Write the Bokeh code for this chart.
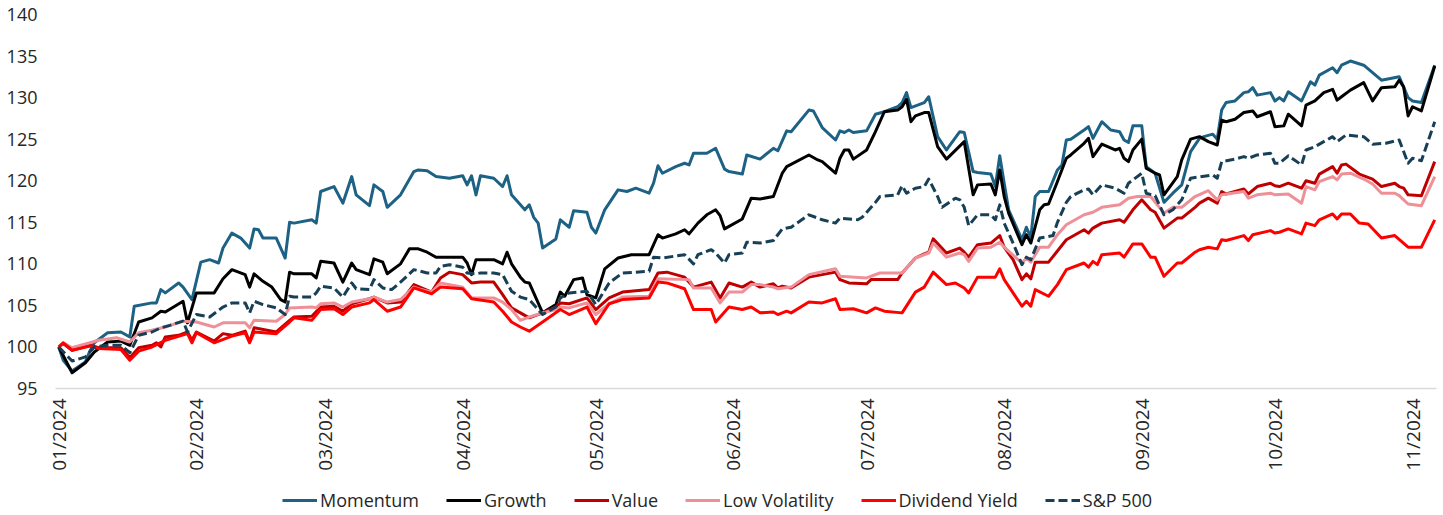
import math
import pandas as pd
from bokeh.plotting import figure
from bokeh.layouts import column
from bokeh.models import (Range1d, FixedTicker, DatetimeTickFormatter, Legend,
                          LegendItem, ColumnDataSource)
from bokeh.embed import file_html
from bokeh.resources import INLINE

# ---------------- data: (days since 2024-01-01, index level) ----------------
momentum = [(0,100.0),(1,98.4),(3,97.1),(6,98.2),(7,99.5),(8,100.5),(11,101.7),(14,101.8),(16,101.2),(17,104.9),
 (21,105.3),(22,105.3),(23,106.9),(24,106.5),(27,107.7),(28,107.2),(30,105.7),(32,110.2),(34,110.5),(36,110.1),
 (37,111.9),(39,113.7),(41,113.1),(43,111.9),(44,114.2),(45,114.1),(46,113.1),(49,113.1),(51,110.7),(52,115.0),
 (53,114.9),(57,115.3),(58,114.9),(59,118.7),(62,119.3),(64,117.3),(66,120.5),(67,118.3),(70,117.0),(71,119.5),
 (73,118.7),(74,116.8),(77,118.3),(80,121.1),(81,121.3),(83,121.2),(85,120.5),(88,120.3),(91,120.6),(92,119.5),
 (93,120.6),(94,118.3),(95,120.6),(98,120.3),(100,119.3),(101,120.6),(102,118.3),(105,116.5),(106,117.1),(107,115.6),
 (108,114.9),(109,111.9),(112,113.0),(113,115.3),(115,114.4),(116,116.4),(119,116.2),(120,114.4),(121,113.7),(123,116.5),
 (126,118.9),(128,118.7),(130,119.1),(133,118.5),(134,119.7),(135,121.8),(136,120.9),(139,121.7),(141,122.1),(142,121.9),
 (143,123.3),(146,123.3),(148,123.9),(150,121.4),(151,121.1),(154,120.8),(155,123.1),(158,122.6),(161,123.9),(162,123.6),
 (164,126.0),(165,125.9),(169,128.5),(170,128.4),(172,126.4),(175,124.9),(176,126.0),(177,125.8),(178,126.1),(179,125.8),
 (182,126.0),(184,128.0),(186,128.3),(189,128.9),(190,129.4),(191,130.6),(192,128.8),(195,129.4),(196,130.1),(198,125.3),
 (200,123.7),(203,125.9),(204,125.8),(206,121.1),(207,121.0),(210,120.8),(211,119.3),(212,123.0),(213,119.7),(214,116.5),
 (217,112.9),(218,114.4),(219,113.2),(220,118.1),(221,118.7),(223,118.7),(225,121.3),(226,121.9),(227,124.9),(228,125.0),
 (231,126.1),(232,126.5),(233,125.1),(235,127.1),(237,126.1),(239,125.9),(240,124.9),(241,124.6),(242,126.6),(244,126.6),
 (245,121.7),(247,120.9),(249,117.4),(251,118.5),(253,119.5),(255,123.5),(257,125.1),(258,125.3),(260,125.6),(261,125.0),
 (262,128.5),(263,129.4),(265,129.6),(267,130.6),(268,130.7),(269,131.2),(270,130.3),(273,130.6),(274,129.6),(275,130.0),
 (276,129.6),(277,130.7),(280,129.6),(282,131.9),(283,131.5),(284,132.7),(287,133.6),(288,133.0),(289,133.9),(291,134.4),
 (294,133.9),(298,132.1),(302,132.5),(304,130.0),(305,129.6),(307,129.4),(310,133.9)]

growth = [(0,100.0),(3,96.9),(6,98.1),(8,99.4),(11,100.6),(14,100.7),(16,100.2),(18,103.0),(21,103.5),(23,104.3),
 (24,104.2),(28,105.5),(29,102.9),(31,106.5),(35,106.5),(37,108.2),(39,109.3),(42,108.7),(43,107.2),(44,108.8),
 (46,107.9),(48,107.2),(50,105.7),(51,105.4),(52,109.0),(53,108.8),(57,108.8),(58,108.3),(59,110.3),(62,110.1),
 (64,107.8),(66,110.1),(67,109.3),(70,108.7),(71,110.6),(73,110.2),(74,108.8),(77,110.0),(79,111.8),(81,111.8),
 (83,111.4),(85,110.8),(91,110.8),(92,110.1),(93,108.7),(94,110.5),(98,110.5),(100,110.0),(101,111.4),(102,110.0),
 (104,108.4),(105,107.8),(106,107.7),(109,104.1),(112,105.1),(113,106.6),(114,106.1),(116,108.1),(118,108.3),(119,106.3),
 (121,105.9),(123,109.4),(126,110.7),(129,111.1),(133,111.1),(135,113.5),(136,113.1),(139,113.6),(141,114.1),(142,113.6),
 (144,114.9),(146,115.9),(148,116.5),(149,115.8),(150,114.2),(154,115.4),(156,117.9),(158,117.8),(161,118.1),(163,120.9),
 (164,121.7),(169,123.1),(171,122.5),(172,122.3),(175,120.9),(176,122.7),(177,123.7),(178,123.7),(179,122.6),(182,123.7),
 (184,125.9),(186,128.3),(189,128.5),(190,128.9),(191,129.8),(192,127.1),(193,127.8),(195,128.2),(196,128.2),(198,124.1),
 (200,122.6),(204,124.7),(206,118.3),(207,119.5),(210,119.6),(211,118.3),(212,121.3),(213,118.1),(214,116.1),(217,112.3),
 (218,113.5),(219,112.5),(221,116.5),(222,117.1),(223,117.2),(225,119.9),(227,122.7),(228,123.1),(231,124.5),(232,125.1),
 (233,122.9),(235,124.4),(238,123.7),(239,123.9),(240,122.7),(241,122.3),(242,123.7),(244,125.0),(245,121.5),(247,120.9),
 (248,120.7),(249,118.3),(252,120.5),(253,122.5),(255,125.0),(257,125.3),(259,124.7),(261,124.3),(262,127.3),(263,127.1),
 (265,127.4),(267,128.2),(269,128.4),(270,127.7),(273,128.3),(274,126.5),(276,126.6),(277,128.0),(280,126.6),(281,129.1),
 (283,129.6),(285,130.6),(287,131.0),(288,129.7),(289,130.1),(291,130.9),(294,131.8),(296,129.6),(298,131.2),(301,131.3),
 (302,132.1),(303,131.3),(304,127.8),(305,128.9),(307,128.4),(310,133.8)]

value_ = [(0,100.0),(1,100.4),(3,99.6),(7,100.2),(9,99.9),(14,99.9),(16,98.7),(18,99.9),(21,100.2),(22,100.5),
 (23,100.0),(24,101.2),(27,101.4),(29,101.8),(30,100.8),(31,101.8),(35,100.7),(37,101.6),(39,101.4),(42,101.9),
 (43,100.6),(44,102.3),(49,101.8),(52,103.2),(53,103.6),(57,103.7),(59,104.8),(62,104.9),(64,104.3),(66,105.2),
 (70,105.8),(71,106.0),(74,105.3),(77,105.4),(80,107.5),(84,106.6),(86,108.3),(88,109.0),(91,108.7),(93,107.7),
 (95,107.8),(98,107.8),(100,106.3),(102,104.7),(104,104.1),(106,103.5),(109,104.1),(112,104.8),(113,105.3),(115,105.2),
 (119,105.9),(121,104.5),(124,105.9),(127,106.6),(133,106.9),(135,108.9),(137,109.0),(141,108.4),(143,107.2),(147,107.8),
 (149,105.9),(151,107.7),(154,107.2),(156,107.8),(158,107.2),(161,107.6),(162,107.1),(163,107.3),(165,107.1),(169,108.4),
 (175,109.0),(176,108.1),(178,107.7),(182,107.6),(183,108.1),(189,108.1),(190,108.9),(193,110.7),(195,111.2),(196,111.4),
 (197,113.0),(200,111.3),(203,111.9),(204,111.4),(205,110.8),(207,112.3),(210,112.5),(212,113.4),(213,112.0),(215,110.5),
 (217,108.1),(218,108.8),(219,108.2),(220,110.2),(223,110.2),(227,112.9),(231,114.1),(232,113.7),(233,114.3),(235,114.9),
 (239,115.3),(240,115.0),(242,116.5),(244,117.7),(246,116.5),(247,116.2),(249,114.3),(252,115.5),(253,115.5),(256,116.8),
 (257,117.3),(259,117.9),(261,117.3),(262,118.7),(263,118.4),(267,119.0),(268,118.4),(270,119.3),(273,119.7),(274,119.4),
 (275,119.3),(277,119.7),(280,119.1),(281,120.0),(283,119.7),(284,120.8),(287,121.7),(288,120.9),(289,121.9),(290,122.0),
 (293,120.8),(296,120.2),(298,119.3),(301,119.7),(302,119.3),(303,119.1),(304,118.3),(307,118.2),(310,122.3)]

low_vol = [(0,100.0),(1,100.5),(3,99.9),(7,100.5),(9,100.8),(13,101.1),(16,100.6),(18,101.7),(21,102.0),(24,102.4),
 (28,103.1),(31,103.0),(35,102.4),(37,102.9),(42,102.9),(43,102.3),(44,103.2),(49,103.1),(51,103.9),(52,104.7),
 (57,104.8),(58,104.7),(59,105.2),(62,105.3),(64,104.8),(66,105.4),(70,105.8),(71,106.0),(74,105.4),(77,105.7),
 (80,107.2),(81,107.0),(84,106.6),(86,107.7),(91,107.2),(93,105.9),(98,105.9),(100,105.4),(102,104.5),(104,103.2),
 (106,103.6),(109,104.1),(112,104.5),(113,104.8),(115,104.7),(119,105.3),(121,103.9),(124,105.2),(127,106.0),(133,106.1),
 (135,108.2),(142,108.1),(143,107.1),(147,107.1),(149,105.3),(151,106.6),(154,106.6),(156,107.5),(158,107.5),(161,107.2),
 (162,107.0),(165,107.2),(169,108.7),(175,109.4),(176,108.5),(182,108.3),(185,108.9),(190,108.9),(193,110.7),(196,111.3),
 (197,112.5),(200,110.8),(203,111.3),(204,111.1),(205,110.3),(207,111.9),(210,112.0),(212,112.6),(213,112.0),(217,110.1),
 (218,110.7),(219,110.2),(221,112.0),(223,112.0),(225,113.5),(227,114.7),(231,115.9),(233,116.2),(235,116.8),(239,117.1),
 (241,117.9),(243,118.1),(246,118.1),(249,116.1),(251,116.8),(253,116.8),(256,118.1),(259,118.8),(261,117.7),(262,118.3),
 (267,118.7),(268,117.9),(270,118.3),(273,118.5),(274,118.3),(277,118.4),(280,117.3),(281,119.3),(283,118.9),(284,119.9),
 (287,120.5),(288,120.1),(289,120.8),(291,120.9),(294,120.2),(296,119.6),(298,118.5),(301,118.5),(302,118.2),(304,117.2),
 (307,117.0),(310,120.5)]

dividend = [(0,100.0),(1,100.5),(3,99.6),(7,100.1),(9,99.8),(14,99.7),(16,98.4),(18,99.5),(21,100.0),(24,100.8),
 (29,101.6),(30,100.5),(31,101.7),(35,100.5),(39,101.3),(42,101.7),(43,100.5),(44,101.8),(49,101.6),(52,103.0),
 (53,103.5),(57,103.2),(59,104.5),(62,104.6),(64,103.9),(66,104.8),(70,105.3),(71,105.7),(74,104.3),(77,104.8),
 (80,107.1),(84,106.4),(86,107.2),(91,107.0),(93,105.8),(98,105.4),(100,104.3),(102,103.0),(104,102.4),(106,101.9),
 (109,103.0),(113,104.5),(115,103.9),(119,104.8),(121,102.8),(124,105.2),(127,105.7),(133,105.9),(135,107.8),(137,107.7),
 (141,107.0),(143,104.5),(147,104.5),(148,103.0),(151,104.8),(154,104.5),(156,104.8),(158,104.1),(161,104.2),(162,103.9),
 (164,104.3),(165,104.1),(169,105.4),(172,105.3),(175,105.8),(176,104.5),(179,104.6),(182,104.1),(184,104.7),(186,104.3),
 (190,104.1),(193,106.6),(195,107.2),(197,109.0),(200,107.5),(202,107.7),(204,107.1),(205,106.5),(207,108.4),(211,108.4),
 (212,109.4),(213,108.1),(217,104.9),(218,105.5),(219,104.9),(220,106.9),(223,106.1),(225,107.5),(227,109.3),(231,110.1),
 (232,109.6),(233,110.3),(234,109.9),(235,111.1),(239,111.3),(240,110.8),(242,112.4),(244,112.4),(246,110.8),(247,110.8),
 (249,108.5),(252,110.1),(253,110.1),(256,111.4),(257,111.7),(259,112.0),(261,111.8),(262,112.9),(263,112.8),(267,113.4),
 (268,112.8),(269,113.5),(273,114.0),(274,113.7),(275,113.8),(277,114.2),(280,113.6),(281,114.9),(283,114.6),(284,115.3),
 (287,116.0),(288,115.4),(289,116.0),(291,116.0),(293,114.9),(295,114.8),(298,113.1),(301,113.4),(304,112.0),(307,112.0),
 (310,115.3)]

sp500 = [(0,100.0),(3,98.3),(6,98.8),(8,100.0),(11,100.2),(14,100.2),(16,99.3),(18,101.4),(21,101.8),(23,102.3),
 (25,102.6),(28,103.1),(29,101.8),(31,103.9),(34,103.6),(37,104.8),(39,105.3),(42,105.3),(43,104.1),(44,105.5),
 (46,105.1),(49,104.7),(51,103.9),(52,106.1),(53,106.0),(57,106.0),(58,106.5),(59,107.3),(62,107.1),(64,106.0),
 (66,107.7),(67,107.0),(70,106.9),(71,108.1),(73,107.1),(75,106.9),(77,107.8),(80,109.3),(83,108.9),(85,108.9),
 (86,109.7),(88,109.9),(91,109.6),(92,108.9),(94,108.8),(95,108.9),(98,108.9),(100,108.7),(102,106.7),(104,106.0),
 (106,105.7),(109,103.9),(112,104.8),(113,105.9),(115,106.5),(119,106.7),(121,105.1),(124,107.7),(127,108.9),(133,109.1),
 (134,110.8),(136,110.7),(141,111.1),(143,110.0),(144,111.1),(147,111.7),(148,111.3),(150,110.1),(151,111.1),(154,111.3),
 (155,112.6),(158,112.5),(161,112.8),(163,114.2),(165,114.4),(169,115.9),(172,115.3),(175,114.9),(176,115.5),(180,115.3),
 (181,115.6),(184,117.4),(185,118.1),(189,118.3),(190,119.4),(191,118.5),(193,119.1),(195,119.3),(196,120.2),(198,118.1),
 (199,116.8),(202,117.9),(203,117.7),(204,116.8),(205,114.6),(207,115.9),(210,115.9),(211,115.3),(212,117.1),(213,114.9),
 (215,112.5),(217,109.9),(218,110.8),(219,110.5),(221,113.1),(224,113.4),(225,115.0),(227,117.4),(228,118.1),(231,118.9),
 (232,119.0),(233,118.3),(235,119.5),(238,119.1),(240,118.5),(241,119.7),(244,120.9),(245,118.5),(247,118.2),(249,115.9),
 (251,116.5),(253,117.7),(255,120.3),(260,120.7),(261,120.3),(262,122.3),(265,122.6),(267,122.9),(268,122.7),(270,123.1),
 (273,123.3),(274,122.1),(275,122.1),(277,123.0),(280,121.9),(281,123.7),(283,124.1),(285,124.7),(287,125.3),(288,124.7),
 (290,125.5),(294,125.3),(296,124.4),(299,124.5),(302,124.9),(304,122.1),(305,122.7),(307,122.4),(310,127.1)]

series_names = ["Momentum", "Growth", "Value", "Low Volatility", "Dividend Yield", "S&P 500"]
series_colors = ["#1D6285", "#000000", "#C00000", "#EF8F98", "#FF0000", "#173F55"]
series_dash = ["solid", "solid", "solid", "solid", "solid", "9 4"]

month_ticks = ["2024-01-01", "2024-02-01", "2024-03-01", "2024-04-01", "2024-05-01", "2024-06-01",
               "2024-07-01", "2024-08-01", "2024-09-01", "2024-10-01", "2024-11-01"]
y_ticks = [95, 100, 105, 110, 115, 120, 125, 130, 135, 140]

# ---------------- figure ----------------
FONT = "Open Sans"
TXT = "#262626"
base = pd.Timestamp("2024-01-01")

def to_source(pairs):
    days = [d for d, _ in pairs]
    vals = [v for _, v in pairs]
    dates = [base + pd.Timedelta(days=d) for d in days]
    return ColumnDataSource(dict(x=dates, y=vals))

p = figure(frame_width=1381, frame_height=374, x_axis_type="datetime",
           x_range=Range1d((base - pd.Timedelta(days=0.74)).to_pydatetime(),
                           (base + pd.Timedelta(days=310.4)).to_pydatetime()),
           y_range=Range1d(95, 140),
           output_backend="svg", toolbar_location=None,
           min_border_left=55, min_border_right=2, min_border_top=14, min_border_bottom=90)
p.outline_line_color = None
p.xgrid.visible = False
p.ygrid.visible = False
p.background_fill_color = "white"
p.border_fill_color = "white"

for data, col, dash in zip([momentum, growth, value_, low_vol, dividend, sp500],
                           series_colors, series_dash):
    p.line("x", "y", source=to_source(data), line_color=col, line_width=3,
           line_dash=dash, line_join="round")

# axes
p.yaxis.ticker = FixedTicker(ticks=y_ticks)
p.yaxis.axis_line_color = None
p.yaxis.major_tick_line_color = None
p.yaxis.minor_tick_line_color = None
p.yaxis.major_tick_out = 0
p.yaxis.major_label_standoff = 18
p.yaxis.major_label_text_font = FONT
p.yaxis.major_label_text_font_size = "18px"
p.yaxis.major_label_text_color = TXT

tick_ms = [pd.Timestamp(t).value / 1e6 for t in month_ticks]
p.xaxis.ticker = FixedTicker(ticks=tick_ms)
fmt = "%m/%Y"
p.xaxis.formatter = DatetimeTickFormatter(microseconds=fmt, milliseconds=fmt, seconds=fmt,
                                          minsec=fmt, minutes=fmt, hourmin=fmt, hours=fmt,
                                          days=fmt, months=fmt, years=fmt)
p.xaxis.major_label_orientation = math.pi / 2
p.xaxis.axis_line_color = "#D9D9D9"
p.xaxis.axis_line_width = 1.5
p.xaxis.major_tick_line_color = None
p.xaxis.minor_tick_line_color = None
p.xaxis.major_tick_out = 0
p.xaxis.major_label_standoff = 10
p.xaxis.major_label_text_font = FONT
p.xaxis.major_label_text_font_size = "19px"
p.xaxis.major_label_text_color = TXT

# ---------------- legend strip (separate figure below; key lines hold only a NaN row) ----------------
leg = figure(width=1438, height=37, output_backend="svg", toolbar_location=None,
             x_axis_location=None, y_axis_location=None,
             x_range=Range1d(0, 1), y_range=Range1d(0, 1),
             min_border_left=0, min_border_right=0, min_border_top=0, min_border_bottom=0)
leg.outline_line_color = None
leg.xgrid.visible = False
leg.ygrid.visible = False
leg.background_fill_color = "white"
leg.border_fill_color = "white"

items = []
for name, col, dash in zip(series_names, series_colors, series_dash):
    key_src = ColumnDataSource(dict(x=[float("nan")], y=[float("nan")]))
    r = leg.line("x", "y", source=key_src, line_color=col, line_width=3, line_dash=dash)
    items.append(LegendItem(label=name, renderers=[r]))

legend = Legend(items=items, orientation="horizontal", location=(227, 3),
                glyph_width=35, glyph_height=18, label_height=18, label_standoff=3,
                spacing=27, padding=0, margin=0, border_line_color=None,
                background_fill_alpha=0, label_text_font=FONT,
                label_text_font_size="18px", label_text_color=TXT)
leg.add_layout(legend, "center")

layout = column(p, leg, spacing=0)
open("out.html", "w").write(file_html(layout, INLINE))
